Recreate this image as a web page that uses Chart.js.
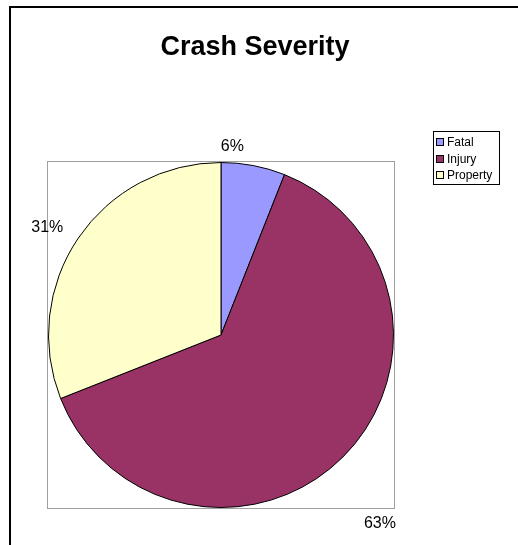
<!DOCTYPE html>
<html>
<head>
<meta charset="utf-8">
<title>Crash Severity</title>
<script src="https://cdn.jsdelivr.net/npm/chart.js@4/dist/chart.umd.min.js"></script>
<style>
  html, body { margin: 0; padding: 0; background: #fff; }
  canvas { display: block; }
</style>
</head>
<body>
<canvas id="crashChart" width="518" height="545"></canvas>
<script>
const categories = ['Fatal', 'Injury', 'Property'];
const percentages = [6, 63, 31];
const sliceColors = ['#9999FF', '#993366', '#FFFFCC'];

const FONT = '"Liberation Sans", Arial, sans-serif';

// where each percent label sits, relative to the outer edge of its slice
const labelOffsets = [[-21, -19], [37, 67], [-31, -10]];

const framePlugin = {
  id: 'frame',
  beforeDraw(chart) {
    const ctx = chart.ctx;
    const area = chart.chartArea;
    ctx.save();
    ctx.fillStyle = '#fff';
    ctx.fillRect(0, 0, chart.width, chart.height);

    // outer border, runs off the right and bottom edges
    ctx.strokeStyle = '#000';
    ctx.lineWidth = 2;
    ctx.strokeRect(10, 7, 600, 600);

    // grey plot box
    ctx.strokeStyle = '#a0a0a0';
    ctx.lineWidth = 1;
    ctx.strokeRect(area.left - 0.5, area.top - 0.5, area.right - area.left + 1, area.bottom - area.top + 1);

    // title
    ctx.fillStyle = '#000';
    ctx.font = 'bold 27px ' + FONT;
    ctx.textAlign = 'center';
    ctx.textBaseline = 'alphabetic';
    ctx.fillText('Crash Severity', 255, 55);
    ctx.restore();
  },
  afterDraw(chart) {
    const ctx = chart.ctx;
    const meta = chart.getDatasetMeta(0);
    ctx.save();

    // percent labels outside the slices
    ctx.fillStyle = '#000';
    ctx.font = '16px ' + FONT;
    ctx.textAlign = 'center';
    ctx.textBaseline = 'middle';
    meta.data.forEach((arc, i) => {
      const p = arc.getProps(['x', 'y', 'startAngle', 'endAngle', 'outerRadius'], true);
      const mid = (p.startAngle + p.endAngle) / 2;
      const ex = p.x + Math.cos(mid) * p.outerRadius;
      const ey = p.y + Math.sin(mid) * p.outerRadius;
      ctx.fillText(percentages[i] + '%', ex + labelOffsets[i][0], ey + labelOffsets[i][1]);
    });

    // legend
    const lx = 433, ly = 131, lw = 66, lh = 53;
    ctx.fillStyle = '#fff';
    ctx.fillRect(lx, ly, lw, lh);
    ctx.strokeStyle = '#000';
    ctx.lineWidth = 1;
    ctx.strokeRect(lx + 0.5, ly + 0.5, lw, lh);
    ctx.font = '12px ' + FONT;
    ctx.textAlign = 'left';
    categories.forEach((name, i) => {
      const cy = ly + 11 + i * 16.5;
      ctx.fillStyle = sliceColors[i];
      ctx.fillRect(lx + 3, Math.round(cy) - 3, 7, 7);
      ctx.strokeStyle = '#000';
      ctx.strokeRect(lx + 3.5, Math.round(cy) - 3.5, 7, 7);
      ctx.fillStyle = '#000';
      ctx.fillText(name, lx + 14, cy + 1);
    });
    ctx.restore();
  }
};

new Chart(document.getElementById('crashChart'), {
  type: 'pie',
  data: {
    labels: categories,
    datasets: [{
      data: percentages,
      backgroundColor: sliceColors,
      borderColor: '#000',
      borderWidth: 1
    }]
  },
  options: {
    responsive: false,
    animation: false,
    layout: {
      padding: { left: 48, right: 124, top: 162, bottom: 37 }
    },
    plugins: {
      legend: { display: false },
      title: { display: false },
      tooltip: { enabled: false }
    }
  },
  plugins: [framePlugin]
});
</script>
</body>
</html>
